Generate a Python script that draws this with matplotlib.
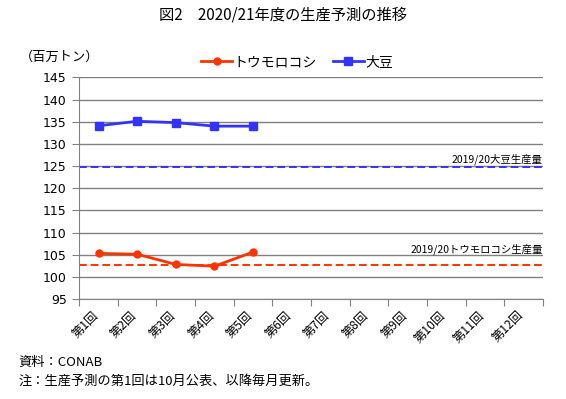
import matplotlib
matplotlib.use("Agg")
import matplotlib.pyplot as plt

plt.rcParams['font.family'] = ['Noto Sans CJK JP', 'DejaVu Sans']

categories = ["第1回", "第2回", "第3回", "第4回", "第5回", "第6回",
              "第7回", "第8回", "第9回", "第10回", "第11回", "第12回"]
corn = [105.3, 105.1, 102.8, 102.4, 105.6]
soy = [134.1, 135.1, 134.8, 134.0, 134.0]
corn_prev = 102.6
soy_prev = 124.7
yticks = list(range(95, 146, 5))

red = '#FF3300'
blue = '#3333FF'

fig = plt.figure(figsize=(5.66, 3.99), dpi=100)
ax = fig.add_axes([0.140, 0.2506, 0.819, 0.5554])

x = list(range(len(categories)))
ax.plot(x[:len(corn)], corn, color=red, lw=2, marker='o', ms=5, label='トウモロコシ', zorder=3)
ax.plot(x[:len(soy)], soy, color=blue, lw=2, marker='s', ms=5.5, label='大豆', zorder=3)
ax.axhline(soy_prev, color=blue, lw=1.4, ls=(0, (4, 2)), zorder=2)
ax.axhline(corn_prev, color=red, lw=1.4, ls=(0, (4, 2)), zorder=2)

ax.set_xlim(-0.5, len(categories) - 0.5)
ax.set_ylim(95, 145)
ax.set_yticks(yticks)
ax.set_yticklabels([str(v) for v in yticks], fontsize=9, family='DejaVu Sans')
ax.yaxis.grid(True, color='#808080', lw=1)
ax.set_axisbelow(True)
for s in ['top', 'right']:
    ax.spines[s].set_visible(False)
for s in ['left', 'bottom']:
    ax.spines[s].set_color('#808080')
ax.tick_params(axis='y', length=5, color='#808080', pad=4)

ax.set_xticks([i - 0.5 for i in range(len(categories) + 1)])
ax.set_xticklabels([])
ax.tick_params(axis='x', length=5, color='#808080')
for i, c in enumerate(categories):
    ax.annotate(c, xy=(i, 95), xycoords='data', xytext=(-5, -7), textcoords='offset points',
                rotation=45, ha='right', va='top', rotation_mode='anchor', fontsize=8.8)

ax.text(len(categories) - 0.5, soy_prev + 0.6, '2019/20大豆生産量', ha='right', va='bottom', fontsize=7.5)
ax.text(len(categories) - 0.5, corn_prev + 2.3, '2019/20トウモロコシ生産量', ha='right', va='bottom', fontsize=7.5)

leg = ax.legend(loc='lower center', bbox_to_anchor=(0.47, 1.0), ncol=2, frameon=False,
                fontsize=10, handlelength=2.2, columnspacing=1.2, handletextpad=0.1, borderaxespad=0.2)

fig.text(0.5, 0.962, '図2　2020/21年度の生産予測の推移', ha='center', va='center', fontsize=11)
fig.text(0.035, 0.857, '（百万トン）', ha='left', va='center', fontsize=9.5)
fig.text(0.032, 0.092, '資料：CONAB', ha='left', va='center', fontsize=9.5)
fig.text(0.032, 0.045, '注：生産予測の第1回は10月公表、以降毎月更新。', ha='left', va='center', fontsize=9.5)

fig.savefig('out.png', dpi=100)
